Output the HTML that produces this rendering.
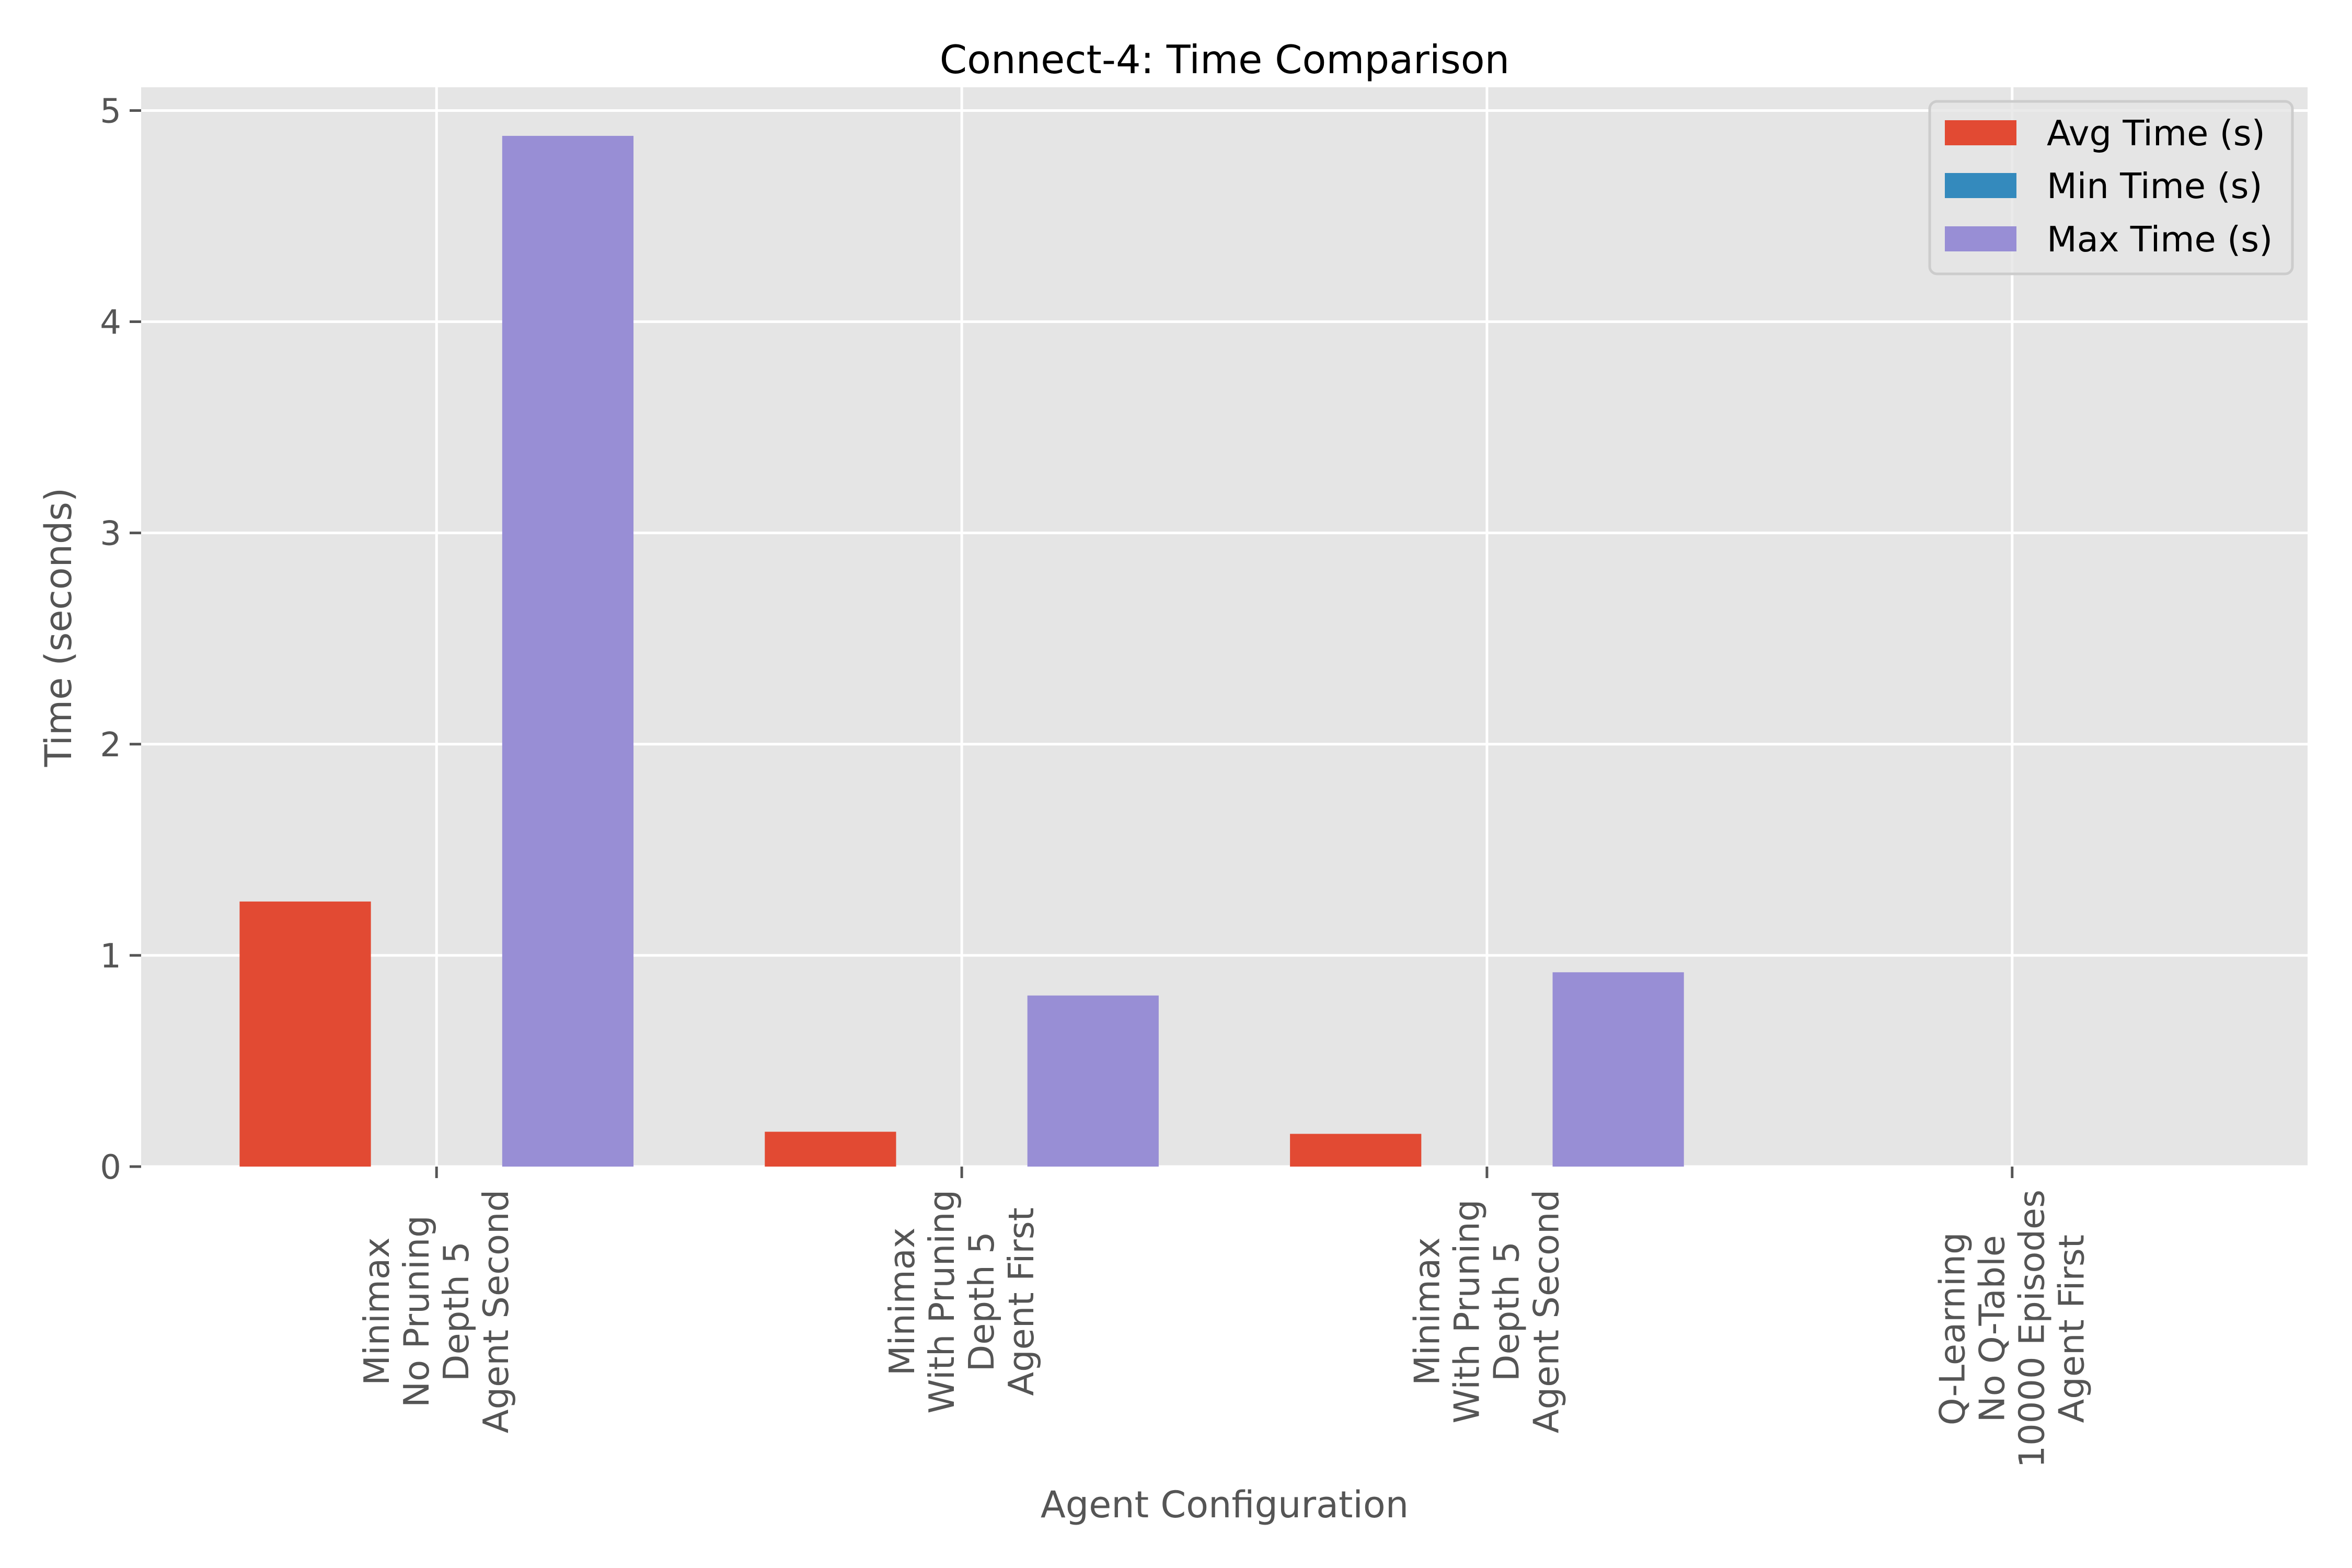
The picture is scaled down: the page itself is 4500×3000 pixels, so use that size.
<!DOCTYPE html>
<html><head><meta charset="utf-8"><style>
html,body{margin:0;padding:0;background:#fff;}
svg{display:block;font-family:"DejaVu Sans","Liberation Sans",sans-serif;}
</style></head><body>
<svg id="chart" xmlns="http://www.w3.org/2000/svg" width="4500" height="3000" viewBox="0 0 4500 3000">
<rect x="0" y="0" width="4500" height="3000" fill="#ffffff"/>
<g id="plot"></g>
<text x="2343" y="140" font-size="75" fill="#000" text-anchor="middle">Connect-4: Time Comparison</text>
<text x="2343" y="2903" font-size="70" fill="#555" text-anchor="middle">Agent Configuration</text>
<text transform="translate(136,1200) rotate(-90)" font-size="70" fill="#555" text-anchor="middle">Time (seconds)</text>
<g>
<rect x="3692" y="194" width="694" height="330" rx="14" fill="#E5E5E5" fill-opacity="0.8" stroke="#CCCCCC" stroke-width="5"/>
<rect x="3721" y="230" width="137" height="48" fill="#E24A33"/>
<text x="3916" y="278" font-size="67" fill="#000">Avg Time (s)</text>
<rect x="3721" y="331" width="137" height="48" fill="#348ABD"/>
<text x="3916" y="379" font-size="67" fill="#000">Min Time (s)</text>
<rect x="3721" y="433" width="137" height="48" fill="#988ED5"/>
<text x="3916" y="481" font-size="67" fill="#000">Max Time (s)</text>
</g>
</svg>
<script>
const categories = [
  ["Minimax","No Pruning","Depth 5","Agent Second"],
  ["Minimax","With Pruning","Depth 5","Agent First"],
  ["Minimax","With Pruning","Depth 5","Agent Second"],
  ["Q-Learning","No Q-Table","10000 Episodes","Agent First"]
];
const avgTimes = [1.255, 0.165, 0.155, 0.0];
const minTimes = [0.0, 0.0, 0.0, 0.0];
const maxTimes = [4.88, 0.81, 0.92, 0.0];
const yTicks = [0, 1, 2, 3, 4, 5];

const NS = "http://www.w3.org/2000/svg";
const L = 270, R = 4415, T = 167, B = 2232;
const xMin = -0.5625, xMax = categories.length - 1 + 0.5625;
const yMin = 0, yMax = 5.11;
function xs(v){ return L + (v - xMin) / (xMax - xMin) * (R - L); }
function ys(v){ return B - (v - yMin) / (yMax - yMin) * (B - T); }
function mk(tag, attrs, parent){
  const e = document.createElementNS(NS, tag);
  for (const k in attrs) e.setAttribute(k, attrs[k]);
  parent.appendChild(e); return e;
}
const g = document.getElementById('plot');
const bg = mk('rect', {x:L, y:T, width:R-L, height:B-T, fill:'#E5E5E5'}, g);



yTicks.forEach(t => {
  const y = ys(t);
  const gl = mk('line', {x1:L, x2:R, y1:y, y2:y, stroke:'#fff', 'stroke-width':5}, g);
  
  
  const tk = mk('line', {x1:L-22, x2:L, y1:y, y2:y, stroke:'#555', 'stroke-width':5}, g);
  
  
  const lb = mk('text', {x:L-38, y:y+23, 'font-size':64, fill:'#555', 'text-anchor':'end'}, g);
  lb.textContent = String(t);
  
  
});
categories.forEach((c, i) => {
  const x = xs(i);
  const gl = mk('line', {x1:x, x2:x, y1:T, y2:B, stroke:'#fff', 'stroke-width':5}, g);
  
  
});
const w = 0.25;
const series = [[avgTimes, -w, '#E24A33', 'bar-avg'], [minTimes, 0, '#348ABD', 'bar-min'], [maxTimes, w, '#988ED5', 'bar-max']];
series.forEach(s => {
  s[0].forEach((v, i) => {
    const x0 = xs(i + s[1] - w/2), x1 = xs(i + s[1] + w/2);
    const y = ys(v);
    const r = mk('rect', {x:x0, y:y, width:x1-x0, height:Math.max(0, B-y), fill:s[2]}, g);
    
    
  });
});
categories.forEach((c, i) => {
  const x = xs(i);
  const tk = mk('line', {x1:x, x2:x, y1:B, y2:B+22, stroke:'#555', 'stroke-width':5}, g);
  
  
  const lg = mk('g', {}, g);
  
  
  const fs = 67, lh = 76;
  const texts = c.map((line, j) => {
    const bx = x + (j - (c.length - 1) / 2) * lh + fs * 0.34;
    const t = mk('text', {'font-size':fs, fill:'#555', 'text-anchor':'middle'}, lg);
    t.textContent = line;
    t._bx = bx;
    return t;
  });
  const maxLen = Math.max(...texts.map(t => t.getComputedTextLength()));
  const cy = B + 44 + maxLen / 2;
  texts.forEach(t => t.setAttribute('transform', 'translate(' + t._bx + ',' + cy + ') rotate(-90)'));
});
</script>
</body></html>
